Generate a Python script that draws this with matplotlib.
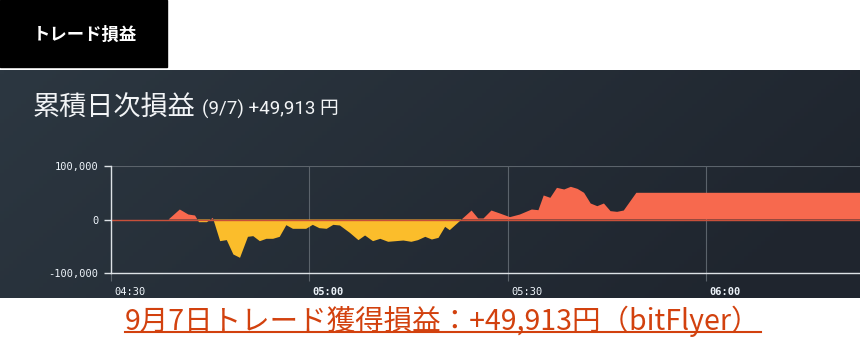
import numpy as np
import matplotlib.pyplot as plt
from matplotlib.patches import Rectangle
from matplotlib.transforms import ScaledTranslation

# minutes after 04:30 and cumulative P/L (yen)
minutes = [0, 8.7, 10.4, 11.7, 12.7, 13.3, 14.5, 15.4, 16.5, 17.5, 18.5, 19.5,
           20.7, 21.5, 22.5, 23.5, 24.5, 25.5, 26.5, 27.5, 29.5, 30.5, 31.5,
           32.6, 33.6, 34.6, 36.1, 37.4, 38.4, 39.6, 40.7, 41.9, 44.2, 45.4,
           46.4, 47.5, 48.5, 49.5, 50.5, 51.2, 54.5, 55.5, 56.3, 57.5, 58.8,
           60.3, 61.8, 63.6, 64.6, 65.4, 66.4, 67.4, 68.5, 69.5, 70.5, 71.5,
           72.5, 73.5, 74.5, 75.5, 76.5, 77.5, 79.4, 114]
pnl = [0, 0, 18700, 9300, 7500, -5000, -5000, 3100, -40500, -38500, -65400,
       -71600, -32400, -31100, -40500, -36100, -36100, -32400, -10600, -17400,
       -17400, -10000, -16200, -17400, -10000, -11200, -24900, -38600, -29900,
       -40500, -36100, -41700, -39300, -41700, -38600, -32400, -37400, -34300,
       -13700, -19900, 16800, 1900, 1900, 16800, 11200, 4400, 9300, 18700,
       17400, 44900, 40500, 59200, 56100, 61100, 57300, 49900, 29900, 24900,
       29900, 15600, 14300, 16800, 49913, 49913]

y_ticks = [-100000, 0, 100000]
y_labels = ['-100,000', '0', '100,000']
x_ticks = [0, 30, 60, 90]
x_labels = ['04:30', '05:00', '05:30', '06:00']
bold_labels = ['05:00', '06:00']

W, H = 860, 345
fig = plt.figure(figsize=(W / 100, H / 100), dpi=100)
fig.patch.set_facecolor('white')


def px(x0, y0, x1, y1):
    return [x0 / W, 1 - y1 / H, (x1 - x0) / W, (y1 - y0) / H]


# header box
fig.patches.append(Rectangle((0, 1 - 67 / H), 167 / W, 67 / H,
                             transform=fig.transFigure, color='black'))
fig.text(33 / W, 1 - 35 / H, 'トレード損益', color='white', fontsize=12.5,
         fontweight='bold', family=['Noto Sans CJK JP'], va='center')

# dark gradient panel
bg = fig.add_axes(px(0, 70, 860, 298))
gx = np.linspace(0, 1, 200)
gy = np.linspace(0, 1, 60)
gxx, gyy = np.meshgrid(gx, gy)
t = np.clip(0.85 * gxx + 0.25 * gyy, 0, 1)[..., None]
c0 = np.array([0x2c, 0x37, 0x41]) / 255
c1 = np.array([0x1f, 0x25, 0x2e]) / 255
bg.imshow(c0 * (1 - t) + c1 * t, aspect='auto', extent=[0, 1, 0, 1], origin='upper')
bg.axis('off')

fig.text(33 / W, 1 - 108 / H, '累積日次損益', color='#f2f4f6', fontsize=19.5,
         family=['Noto Sans CJK JP'], va='center')
fig.text(202 / W, 1 - 109 / H, '(9/7) +49,913 円', color='#f2f4f6', fontsize=13.5,
         family=['Roboto', 'Noto Sans CJK JP'], va='center')

# chart
ax = fig.add_axes(px(111, 166, 860, 273))
ax.set_facecolor('none')
x = np.array(minutes)
y = np.array(pnl)
ax.fill_between(x, y, 0, where=y >= 0, interpolate=True, color='#f7694e', lw=0)
ax.fill_between(x, y, 0, where=y <= 0, interpolate=True, color='#fbbd2b', lw=0)
ax.axhline(0, color='#c9503a', lw=1)
ax.set_xlim(0, 113.2)
ax.set_ylim(-100000, 100000)

ax.set_yticks(y_ticks, y_labels)
ax.set_xticks(x_ticks, x_labels)
for s in ['top', 'right']:
    ax.spines[s].set_visible(False)
for s in ['left', 'bottom']:
    ax.spines[s].set_color('#dde2e6')
    ax.spines[s].set_linewidth(1)
ax.grid(True, color='#5b636b', lw=0.8)
ax.set_axisbelow(True)
ax.tick_params(axis='y', colors='#dde2e6', length=5, width=1, pad=4,
               labelsize=7.5, labelcolor='#eef4fa')
ax.tick_params(axis='x', colors='#5b636b', length=6, width=0.8, pad=4,
               labelsize=7.5, labelcolor='#eef4fa')
ax.xaxis.get_major_ticks()[0].tick1line.set_color('#dde2e6')
off = ScaledTranslation(3 / 100, 0, fig.dpi_scale_trans)
for lab in ax.get_xticklabels() + ax.get_yticklabels():
    lab.set_family('DejaVu Sans Mono')
for lab in ax.get_xticklabels():
    lab.set_ha('left')
    lab.set_transform(lab.get_transform() + off)
    if lab.get_text() in bold_labels:
        lab.set_fontweight('bold')

# caption with underline
cap = fig.text(125 / W, 1 - 321 / H, '9月7日トレード獲得損益：+49,913円（bitFlyer）',
               color='#d2410e', fontsize=20.5, family=['Noto Sans CJK JP'], va='center')
fig.canvas.draw()
bb = cap.get_window_extent()
uy = 1 - 332 / H
fig.lines.append(plt.Line2D([bb.x0 / W, bb.x1 / W], [uy, uy], color='#d2410e',
                            lw=1.5, transform=fig.transFigure))

fig.savefig('out.png', dpi=100)
